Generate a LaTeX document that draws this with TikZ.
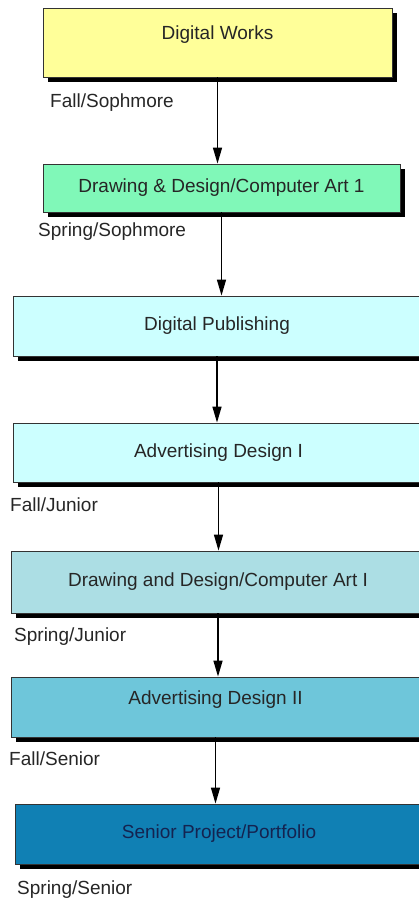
\documentclass[tikz,border=0pt]{standalone}
\usepackage{fontspec}
\setmainfont{Liberation Sans}
\usepackage{tikz}
\usetikzlibrary{shadows,arrows.meta}
\definecolor{WorksYellow}{RGB}{255,255,153}
\definecolor{ArtGreen}{RGB}{128,248,184}
\definecolor{PaleCyan}{RGB}{204,255,255}
\definecolor{PowderBlue}{RGB}{172,222,228}
\definecolor{SkyTeal}{RGB}{110,198,218}
\definecolor{DeepTeal}{RGB}{16,128,180}
\definecolor{Navy}{RGB}{20,35,80}

\begin{document}
\begin{tikzpicture}[x=1pt,y=-1pt,
    course/.style={draw=black!80,line width=0.8pt,text=black!85,inner sep=0pt,
        font=\fontsize{19}{22}\selectfont,
        drop shadow={shadow xshift=5pt,shadow yshift=-5pt,fill=black,opacity=1}},
    term/.style={anchor=west,inner sep=0pt,text=black!85,font=\fontsize{19}{22}\selectfont},
    arr/.style={-{Triangle[length=16pt,width=9pt]},line width=1.4pt}]
    \useasboundingbox (0,0) rectangle (419,901);
    % courses
    \node[course,fill=WorksYellow,minimum width=349pt,minimum height=69pt,text depth=19pt] (works) at (217.5,42.5) {Digital Works};
    \node[course,fill=ArtGreen,minimum width=357pt,minimum height=48pt] (artone) at (221.5,188) {Drawing \& Design/Computer Art 1};
    \node[course,fill=PaleCyan,minimum width=408pt,minimum height=60pt] (publish) at (217,326) {Digital Publishing};
    \node[course,fill=PaleCyan,minimum width=411pt,minimum height=59pt] (advone) at (218.5,452.5) {Advertising Design I};
    \node[course,fill=PowderBlue,minimum width=414pt,minimum height=62pt] (arttwo) at (218,582) {Drawing and Design/Computer Art I};
    \node[course,fill=SkyTeal,minimum width=409pt,minimum height=60pt,text depth=19pt] (advtwo) at (215.5,707) {Advertising Design II};
    \node[course,fill=DeepTeal,text=Navy,minimum width=408pt,minimum height=60pt] (senior) at (219,834) {Senior Project/Portfolio};
    % terms
    \node[term] (t1) at (50,103) {Fall/Sophmore};
    \node[term] (t2) at (38,232) {Spring/Sophmore};
    \node[term] (t3) at (10,505) {Fall/Junior};
    \node[term] (t4) at (14,637) {Spring/Junior};
    \node[term] (t5) at (9,759) {Fall/Senior};
    \node[term] (t6) at (17,890) {Spring/Senior};
    % arrows
    \draw[arr] (works) -- (works |- artone.north);
    \draw[arr] (artone) -- (artone |- publish.north);
    \draw[arr] (publish) -- (publish |- advone.north);
    \draw[arr] (advone) -- (advone |- arttwo.north);
    \draw[arr] (arttwo) -- (arttwo |- advtwo.north);
    \draw[arr] (advtwo) -- (advtwo |- senior.north);
\end{tikzpicture}
\end{document}
